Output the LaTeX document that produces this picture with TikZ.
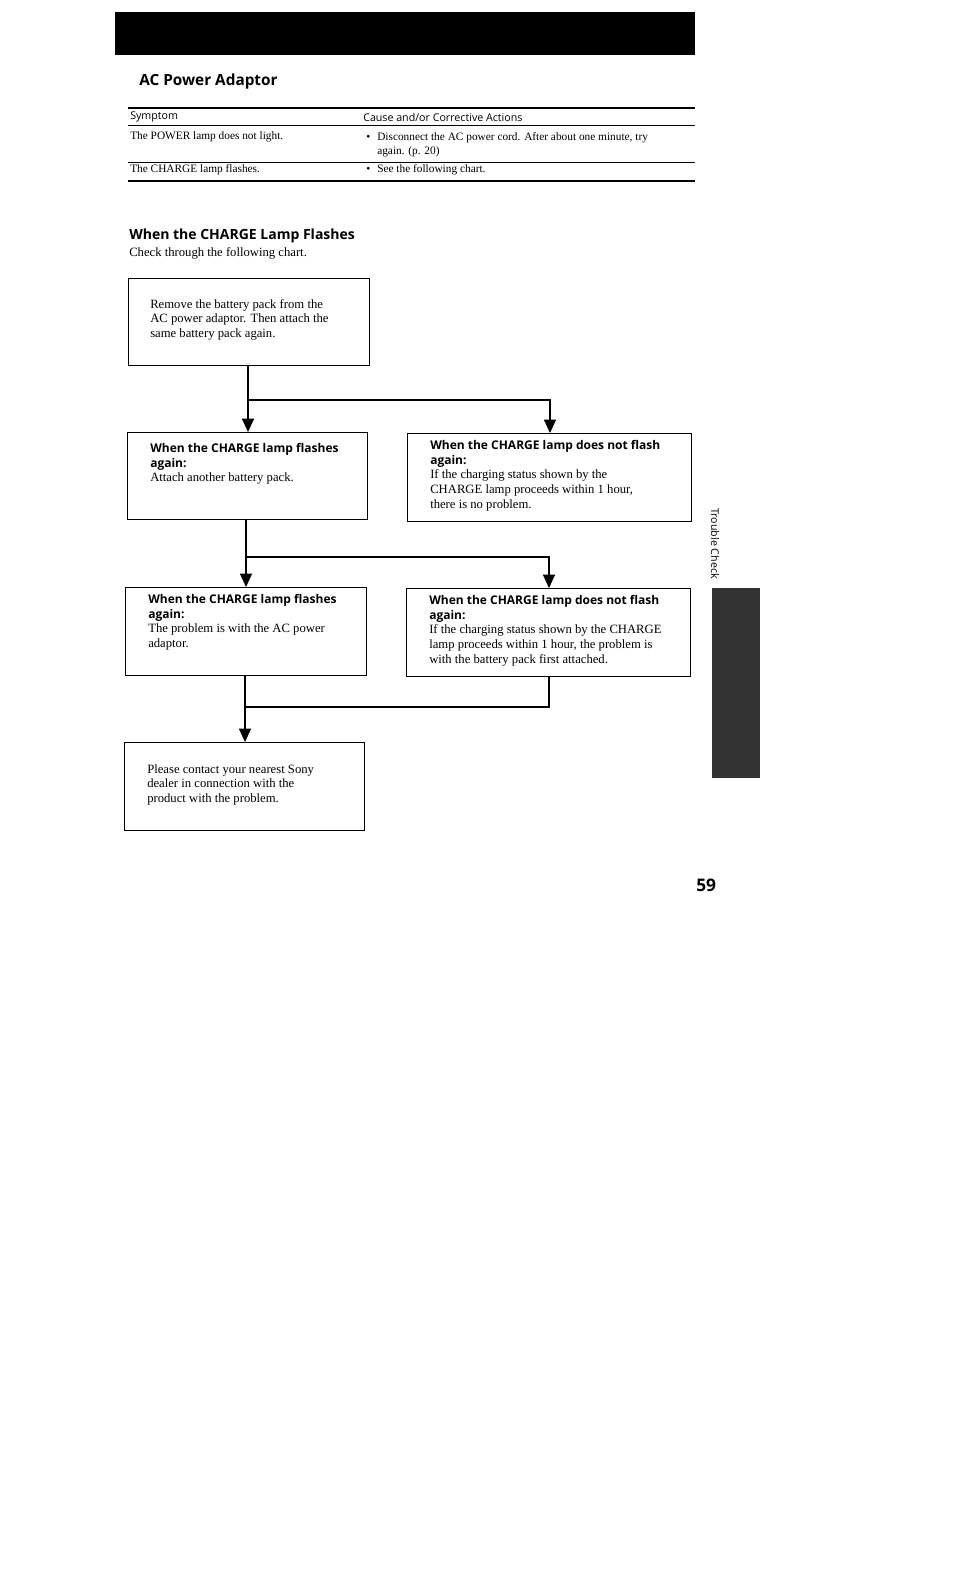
\documentclass[tikz,border=0pt]{standalone}
\usepackage{fontspec}
\setmainfont{Liberation Serif}
\newfontfamily\hd{Open Sans}
\usetikzlibrary{arrows.meta}
\begin{document}
\begin{tikzpicture}[x=0.75pt,y=-0.75pt,
  box/.style={draw,line width=0.8pt,anchor=north west,minimum width=#1,minimum height=87*0.75pt,inner sep=0pt},
  txt/.style={anchor=north west,align=left,font=\fontsize{9.5}{11}\selectfont,inner sep=0pt},
  conn/.style={line width=0.8pt},
  arr/.style={conn,-{Triangle[width=9pt,length=10pt]}},
  cell/.style={anchor=west,inner sep=0pt,font=\fontsize{8.5}{10}\selectfont}]
\useasboundingbox (0,0) rectangle (954,1572);
\fill (115,12) rectangle (695,55);
\node[anchor=west,inner sep=0pt,font=\hd\bfseries\fontsize{11.5}{13}\selectfont] (t1) at (139,82) {AC Power Adaptor};
% table
\draw[line width=0.8pt] (128,108) -- (695,108);
\draw[line width=0.4pt] (128,125) -- (695,125);
\draw[line width=0.4pt] (128,162) -- (695,162);
\draw[line width=0.8pt] (128,181) -- (695,181);
\node[cell,font=\hd\fontsize{8}{10}\selectfont] (h1) at (130,117) {Symptom};
\node[cell,font=\hd\fontsize{8}{10}\selectfont] (h2) at (363,117) {Cause and/or Corrective Actions};
\node[cell] (r1) at (130,137) {The POWER lamp does not light.};
\node[cell] (r1b) at (366,138) {•};
\node[cell] (r1c) at (377,138) {Disconnect the AC power cord. After about one minute, try};
\node[cell] (r1d) at (377,152) {again. (p. 20)};
\node[cell] (r2) at (130,170) {The CHARGE lamp flashes.};
\node[cell] (r2b) at (366,170) {•};
\node[cell] (r2c) at (377,170) {See the following chart.};
\node[anchor=west,inner sep=0pt,font=\hd\bfseries\fontsize{10.5}{12}\selectfont] (t2) at (129,236) {When the CHARGE Lamp Flashes};
\node[anchor=west,inner sep=0pt,font=\fontsize{9.5}{11}\selectfont] (t3) at (129,253) {Check through the following chart.};
% boxes
\node[box=241*0.75pt] (b1) at (128,278) {};
\node[txt] at (150,299) {Remove the battery pack from the\\AC power adaptor. Then attach the\\same battery pack again.};
\node[box=240*0.75pt] (b2) at (127,432) {};
\node[txt] at (150,443) {{\hd\bfseries\fontsize{9}{11}\selectfont When the CHARGE lamp flashes}\\{\hd\bfseries\fontsize{9}{11}\selectfont again:}\\Attach another battery pack.};
\node[box=284*0.75pt,minimum height=88*0.75pt] (b3) at (407,433) {};
\node[txt] at (430,440) {{\hd\bfseries\fontsize{9}{11}\selectfont When the CHARGE lamp does not flash}\\{\hd\bfseries\fontsize{9}{11}\selectfont again:}\\If the charging status shown by the\\CHARGE lamp proceeds within 1 hour,\\there is no problem.};
\node[box=241*0.75pt,minimum height=88*0.75pt] (b4) at (125,587) {};
\node[txt] at (148,594) {{\hd\bfseries\fontsize{9}{11}\selectfont When the CHARGE lamp flashes}\\{\hd\bfseries\fontsize{9}{11}\selectfont again:}\\The problem is with the AC power\\adaptor.};
\node[box=284*0.75pt,minimum height=88*0.75pt] (b5) at (406,588) {};
\node[txt] at (429,595) {{\hd\bfseries\fontsize{9}{11}\selectfont When the CHARGE lamp does not flash}\\{\hd\bfseries\fontsize{9}{11}\selectfont again:}\\If the charging status shown by the CHARGE\\lamp proceeds within 1 hour, the problem is\\with the battery pack first attached.};
\node[box=240*0.75pt,minimum height=88*0.75pt] (b6) at (124,742) {};
\node[txt] at (147,764) {Please contact your nearest Sony\\dealer in connection with the\\product with the problem.};
% connectors
\coordinate (j1) at (248,400);
\coordinate (j2) at (550,400);
\draw[arr] (b1.south -| j1) -- (b2.north -| j1);
\draw[arr] (j1) -- (j2) -- (b3.north -| j2);
\coordinate (k1) at (246,557);
\coordinate (k2) at (549,557);
\draw[arr] (b2.south -| k1) -- (b4.north -| k1);
\draw[arr] (k1) -- (k2) -- (b5.north -| k2);
\coordinate (m1) at (245,707);
\coordinate (m2) at (549,707);
\draw[arr] (b4.south -| m1) -- (b6.north -| m1);
\draw[conn] (b5.south -| m2) -- (m2) -- (m1);
% side tab
\node[rotate=-90,anchor=west,inner sep=0pt,font=\hd\fontsize{8}{10}\selectfont] (side) at (715,508) {Trouble Check};
\fill[black!80] (712,588) rectangle (760,778);
\node[anchor=west,inner sep=0pt,font=\hd\bfseries\fontsize{13}{15}\selectfont] (pg) at (696,885) {59};
\end{tikzpicture}
\end{document}
